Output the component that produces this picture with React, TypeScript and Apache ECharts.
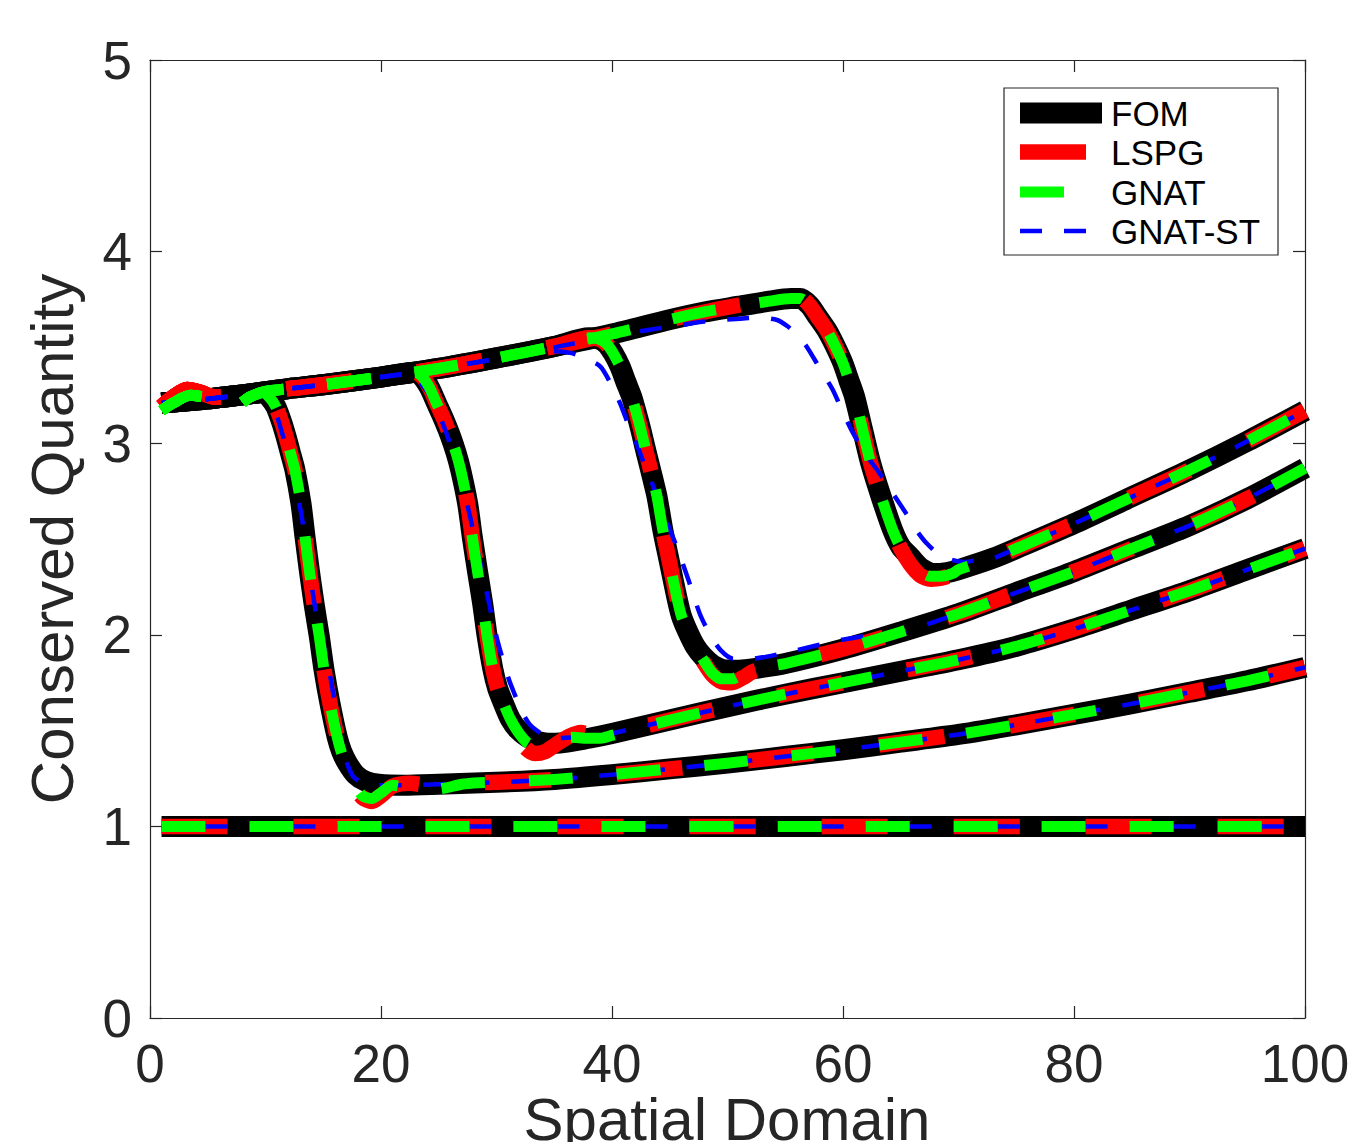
import React, { useEffect, useRef } from 'react';
import * as echarts from 'echarts';

type Pt = [number, number];

// ---------- data ----------
const X_MIN = 0, X_MAX = 100, X_STEP = 20;
const Y_MIN = 0, Y_MAX = 5, Y_STEP = 1;
const X_TITLE = 'Spatial Domain';
const Y_TITLE = 'Conserved Quantity';
const LEGEND_NAMES = ['FOM', 'LSPG', 'GNAT', 'GNAT-ST'];

// initial condition (all methods)
const FLAT: Pt[] = [[1, 1], [100, 1]];

// left "upstream" plateau shared by the snapshots
const FOM_TOP: Pt[] = [[1, 3.21], [4, 3.225], [7, 3.245], [9, 3.26], [12, 3.285], [15, 3.305], [20, 3.345], [25, 3.39], [30, 3.445], [35, 3.505], [40, 3.57], [45, 3.645], [48, 3.685], [51, 3.715], [53.5, 3.74], [55.5, 3.755]];
const LSPG_TOP: Pt[] = [[1, 3.19], [2, 3.24], [3.2, 3.28], [4.4, 3.265], [5.6, 3.24], [7, 3.245], [9, 3.26], [12, 3.285], [15, 3.305], [20, 3.345], [25, 3.39], [30, 3.445], [35, 3.505], [40, 3.57], [45, 3.645], [48, 3.685], [51, 3.72], [53.5, 3.745], [55.5, 3.76]];
const GNAT_TOP: Pt[] = [[1, 3.17], [2, 3.21], [3.5, 3.25], [5, 3.24], [6.5, 3.24], [7.6, 3.2], [8.6, 3.24], [10, 3.27], [12, 3.285], [15, 3.305], [20, 3.345], [25, 3.39], [30, 3.445], [35, 3.505], [40, 3.57], [45, 3.645], [48, 3.685], [51, 3.715], [53.5, 3.74], [55.5, 3.755]];
const GST_TOP: Pt[] = [[1, 3.21], [4, 3.225], [7, 3.245], [9, 3.26], [12, 3.285], [15, 3.305], [20, 3.345], [25, 3.39], [30, 3.44], [35, 3.5], [40, 3.56], [43, 3.59], [46, 3.617], [48, 3.635], [51.1, 3.65], [52.5, 3.655]];

// downstream parts (FOM)
const B_RIGHT: Pt[] = [[22, 1.215], [25, 1.22], [30, 1.23], [35, 1.245], [40, 1.27], [45, 1.3], [50, 1.33], [55, 1.365], [60, 1.4], [65, 1.44], [70, 1.48], [75, 1.53], [80, 1.585], [85, 1.64], [90, 1.7], [95, 1.76], [100, 1.83]];
const C_RIGHT: Pt[] = [[35.5, 1.435], [38, 1.46], [40, 1.485], [45, 1.555], [50, 1.625], [55, 1.69], [60, 1.75], [65, 1.81], [70, 1.87], [75, 1.94], [80, 2.03], [85, 2.13], [90, 2.23], [95, 2.34], [100, 2.45]];
const D_RIGHT: Pt[] = [[52.5, 1.825], [55, 1.85], [60, 1.925], [65, 2.015], [70, 2.11], [75, 2.22], [80, 2.33], [85, 2.45], [90, 2.57], [95, 2.71], [100, 2.87]];
const E_RIGHT: Pt[] = [[70, 2.34], [73, 2.4], [75, 2.45], [80, 2.58], [85, 2.72], [90, 2.86], [95, 3.01], [100, 3.17]];

// shock regions, FOM
const FOM_B: Pt[] = [[9.8, 3.265], [10.4, 3.235], [10.9, 3.19], [11.4, 3.11], [11.78, 3.034], [12.2, 2.94], [12.55, 2.86], [13.07, 2.686], [13.42, 2.512], [13.79, 2.338], [14.2, 2.164], [14.66, 1.99], [15.07, 1.816], [15.58, 1.643], [16.2, 1.468], [16.6, 1.39], [17.1, 1.329], [17.8, 1.27], [18.7, 1.235], [19.8, 1.22]];
const FOM_C: Pt[] = [[23.0, 3.37], [23.6, 3.345], [24.2, 3.29], [24.8, 3.21], [25.4, 3.13], [26.0, 3.04], [26.5, 2.95], [26.9, 2.86], [27.5, 2.686], [27.9, 2.512], [28.34, 2.338], [28.8, 2.164], [29.2, 1.99], [29.7, 1.816], [30.1, 1.72], [30.6, 1.643], [31.2, 1.56], [31.9, 1.503], [33, 1.455], [34.5, 1.434]];
const FOM_D: Pt[] = [[38.0, 3.55], [38.8, 3.545], [39.5, 3.52], [40.1, 3.47], [40.7, 3.4], [41.2, 3.32], [41.7, 3.243], [42.1, 3.16], [42.5, 3.069], [42.85, 2.98], [43.2, 2.895], [43.55, 2.81], [43.9, 2.721], [44.4, 2.547], [45.0, 2.373], [45.6, 2.199], [46.0, 2.1], [46.5, 2.025], [47.2, 1.94], [47.9, 1.886], [48.8, 1.84], [49.9, 1.816], [51, 1.815]];
const FOM_E: Pt[] = [[56.3, 3.755], [57.1, 3.72], [57.8, 3.66], [58.6, 3.59], [59.3, 3.51], [60.0, 3.417], [60.5, 3.33], [61.0, 3.243], [61.7, 3.069], [62.4, 2.895], [63.3, 2.721], [64.3, 2.547], [65.0, 2.46], [65.8, 2.408], [66.7, 2.35], [67.8, 2.32], [69, 2.325]];

// shock regions, LSPG
const LSPG_B: Pt[] = [[9.8, 3.265], [10.4, 3.235], [10.9, 3.19], [11.4, 3.11], [11.78, 3.034], [12.2, 2.94], [12.55, 2.86], [13.07, 2.686], [13.42, 2.512], [13.79, 2.338], [14.2, 2.164], [14.66, 1.99], [15.07, 1.816], [15.58, 1.643], [16.2, 1.468], [16.6, 1.37], [17.1, 1.29], [17.7, 1.21], [18.4, 1.15], [19.2, 1.13], [20.0, 1.16], [21, 1.21], [22.5, 1.225], [24, 1.215], [26, 1.22], [28, 1.228]];
const LSPG_C: Pt[] = [[23.0, 3.37], [23.6, 3.345], [24.2, 3.29], [24.8, 3.21], [25.4, 3.13], [26.0, 3.04], [26.5, 2.95], [26.9, 2.86], [27.5, 2.686], [27.9, 2.512], [28.34, 2.338], [28.8, 2.164], [29.2, 1.99], [29.7, 1.816], [30.1, 1.72], [30.6, 1.643], [31.2, 1.55], [31.8, 1.47], [32.5, 1.41], [33.3, 1.38], [34.2, 1.39], [35.2, 1.43], [36.3, 1.47], [37.3, 1.49], [38.3, 1.475], [39.5, 1.47], [41, 1.495]];
const LSPG_D: Pt[] = [[38.0, 3.55], [38.8, 3.545], [39.5, 3.52], [40.1, 3.47], [40.7, 3.4], [41.2, 3.32], [41.7, 3.243], [42.1, 3.16], [42.5, 3.069], [42.85, 2.98], [43.2, 2.895], [43.55, 2.81], [43.9, 2.721], [44.4, 2.547], [45.0, 2.373], [45.6, 2.199], [46.0, 2.1], [46.5, 2.025], [47.2, 1.93], [47.9, 1.86], [48.7, 1.79], [49.5, 1.755], [50.4, 1.75], [51.3, 1.775], [52.3, 1.81], [55, 1.845], [57, 1.88], [59, 1.91]];
const LSPG_E: Pt[] = [[56.3, 3.76], [57.1, 3.72], [57.8, 3.66], [58.6, 3.59], [59.3, 3.51], [60.0, 3.417], [60.5, 3.33], [61.0, 3.243], [61.7, 3.069], [62.4, 2.895], [63.3, 2.721], [64.3, 2.547], [65.0, 2.45], [65.8, 2.37], [66.7, 2.31], [67.6, 2.29], [68.5, 2.295], [69.5, 2.315], [71, 2.355]];

// shock regions, GNAT
const GNAT_B: Pt[] = [[9.8, 3.265], [10.4, 3.235], [10.9, 3.19], [11.4, 3.11], [11.78, 3.034], [12.2, 2.94], [12.55, 2.86], [13.07, 2.686], [13.42, 2.512], [13.79, 2.338], [14.2, 2.164], [14.66, 1.99], [15.07, 1.816], [15.58, 1.643], [16.2, 1.468], [16.6, 1.38], [17.1, 1.3], [17.7, 1.22], [18.4, 1.16], [19.2, 1.145], [20.0, 1.175], [21, 1.215], [22.5, 1.2], [24, 1.19], [25.5, 1.2], [27, 1.22], [28.5, 1.228]];
const GNAT_C: Pt[] = [[23.0, 3.37], [23.6, 3.345], [24.2, 3.29], [24.8, 3.21], [25.4, 3.13], [26.0, 3.04], [26.5, 2.95], [26.9, 2.86], [27.5, 2.686], [27.9, 2.512], [28.34, 2.338], [28.8, 2.164], [29.2, 1.99], [29.7, 1.816], [30.1, 1.72], [30.6, 1.643], [31.2, 1.56], [31.9, 1.49], [32.7, 1.435], [33.5, 1.42], [34.5, 1.435], [35.5, 1.455], [36.5, 1.465], [37.8, 1.46], [39, 1.46], [40, 1.475]];
const GNAT_D: Pt[] = [[38.0, 3.55], [38.8, 3.545], [39.5, 3.52], [40.1, 3.47], [40.7, 3.4], [41.2, 3.32], [41.7, 3.243], [42.1, 3.16], [42.5, 3.069], [42.85, 2.98], [43.2, 2.895], [43.55, 2.81], [43.9, 2.721], [44.4, 2.547], [45.0, 2.373], [45.6, 2.199], [46.0, 2.1], [46.5, 2.025], [47.2, 1.935], [47.9, 1.87], [48.7, 1.8], [49.5, 1.77], [50.4, 1.77], [51.3, 1.795], [52.3, 1.82]];
const GNAT_E: Pt[] = [[56.3, 3.755], [57.1, 3.72], [57.8, 3.66], [58.6, 3.59], [59.3, 3.51], [60.0, 3.417], [60.5, 3.33], [61.0, 3.243], [61.7, 3.069], [62.4, 2.895], [63.3, 2.721], [64.3, 2.547], [65.0, 2.455], [65.8, 2.385], [66.7, 2.33], [67.6, 2.305], [68.5, 2.305], [69.5, 2.32]];

// shock regions, GNAT-ST
const GST_B: Pt[] = [[9.8, 3.265], [10.4, 3.23], [11.0, 3.14], [11.4, 3.06], [11.9, 2.96], [12.5, 2.8], [13.1, 2.63], [13.8, 2.34], [14.3, 2.14], [14.8, 2.0], [15.3, 1.88], [15.9, 1.68], [16.45, 1.47], [17.0, 1.34], [17.6, 1.26], [18.5, 1.225], [19.8, 1.215], [21, 1.215]];
const GST_C: Pt[] = [[22.5, 3.36], [23.3, 3.32], [24.0, 3.27], [24.6, 3.2], [25.3, 3.11], [25.9, 3.01], [26.4, 2.91], [26.8, 2.82], [27.3, 2.72], [27.7, 2.62], [28.5, 2.4], [29.3, 2.18], [30.0, 1.99], [30.5, 1.88], [31.0, 1.78], [31.5, 1.7], [32.2, 1.6], [32.9, 1.53], [34.0, 1.48], [35, 1.46], [37, 1.465]];
const GST_D: Pt[] = [[33, 3.475], [35, 3.48], [36.5, 3.47], [37.8, 3.44], [39.0, 3.4], [39.9, 3.31], [40.7, 3.208], [41.4, 3.1], [42.1, 3.0], [42.8, 2.89], [43.6, 2.77], [44.6, 2.61], [45.6, 2.46], [46.6, 2.29], [47.6, 2.11], [48.5, 2.0], [49.4, 1.92], [50.5, 1.875], [52, 1.875], [53.4, 1.886], [56, 1.92], [59.2, 1.965], [62, 1.995]];
const GST_E: Pt[] = [[54.3, 3.643], [55.2, 3.61], [56.1, 3.56], [56.9, 3.5], [58.0, 3.39], [59.1, 3.28], [60.0, 3.16], [60.9, 3.05], [62.0, 2.94], [63.2, 2.84], [64.3, 2.74], [65.5, 2.63], [66.3, 2.55], [67.2, 2.48], [68.3, 2.42], [69.5, 2.39], [70.5, 2.38], [72, 2.395]];

// ---------- helpers ----------
function compose(top: Pt[], mid: Pt[], right: Pt[]): Pt[] {
  const a = mid[0][0];
  const b = mid[mid.length - 1][0];
  return [...top.filter((p) => p[0] < a), ...mid, ...right.filter((p) => p[0] > b)];
}

const FONT = '"Liberation Sans", Arial, Helvetica, sans-serif';
const AX = '#262626';

type Method = { name: string; color: string; width: number; dash: number[] | 'solid'; top: Pt[]; mids: Pt[][] };

const METHODS: Method[] = [
  { name: 'FOM', color: '#000000', width: 21, dash: 'solid', top: FOM_TOP, mids: [FOM_B, FOM_C, FOM_D, FOM_E] },
  { name: 'LSPG', color: '#ff0000', width: 15.5, dash: [66, 66], top: LSPG_TOP, mids: [LSPG_B, LSPG_C, LSPG_D, LSPG_E] },
  { name: 'GNAT-ST', color: '#0000ff', width: 4.5, dash: [22, 22], top: GST_TOP, mids: [GST_B, GST_C, GST_D, GST_E] },
  { name: 'GNAT', color: '#00ff00', width: 11, dash: [44, 44], top: GNAT_TOP, mids: [GNAT_B, GNAT_C, GNAT_D, GNAT_E] },
];
const RIGHTS: Pt[][] = [B_RIGHT, C_RIGHT, D_RIGHT, E_RIGHT];

function buildSeries() {
  const out: any[] = [];
  METHODS.forEach((m) => {
    const snaps: Pt[][] = [FLAT, ...m.mids.map((mid, i) => compose(m.top, mid, RIGHTS[i]))];
    snaps.forEach((data) => {
      out.push({
        name: m.name,
        type: 'line',
        data,
        showSymbol: false,
        symbol: 'none',
        smooth: 0.25,
        silent: true,
        clip: false,
        lineStyle: { color: m.color, width: m.width, type: m.dash, cap: 'butt', join: 'round' },
        emphasis: { disabled: true },
      });
    });
  });
  return out;
}

function graphics() {
  const els: any[] = [
    { type: 'rect', shape: { x: 1004, y: 88, width: 274, height: 167 }, style: { fill: '#ffffff', stroke: AX, lineWidth: 1.2 }, z: 100 },
  ];
  const rows = [
    { name: LEGEND_NAMES[0], y: 113, color: '#000000', w: 21, dash: null },
    { name: LEGEND_NAMES[1], y: 152, color: '#ff0000', w: 15.5, dash: [66, 66] },
    { name: LEGEND_NAMES[2], y: 192, color: '#00ff00', w: 11, dash: [44, 44] },
    { name: LEGEND_NAMES[3], y: 231, color: '#0000ff', w: 4.5, dash: [22, 22] },
  ];
  rows.forEach((r) => {
    els.push({
      type: 'line',
      shape: { x1: 1020, y1: r.y, x2: 1102, y2: r.y },
      style: { stroke: r.color, lineWidth: r.w, lineCap: 'butt', lineDash: r.dash || undefined },
      z: 101,
    });
    els.push({
      type: 'text',
      x: 1111,
      y: r.y,
      style: { text: r.name, fontSize: 35, fontFamily: FONT, fill: '#000000', verticalAlign: 'middle', align: 'left' },
      z: 101,
    });
  });
  // x-axis title (sits at the lower edge, as in the reference)
  els.push({
    type: 'text',
    x: 727,
    y: 1119,
    style: { text: X_TITLE, fontSize: 60, lineHeight: 44, fontFamily: FONT, fill: AX, verticalAlign: 'middle', align: 'center' },
    z: 50,
  });
  return els;
}

export default function App() {
  const ref = useRef<HTMLDivElement>(null);
  useEffect(() => {
    if (!ref.current) return;
    const chart = echarts.init(ref.current, undefined, { renderer: 'svg' });
    const axisCommon = {
      type: 'value',
      splitLine: { show: false },
      axisLine: { show: true, onZero: false, lineStyle: { color: AX, width: 1.2 } },
      axisTick: { show: true, inside: true, length: 12, lineStyle: { color: AX, width: 1.2 } },
    };
    chart.setOption({
      animation: false,
      backgroundColor: '#ffffff',
      grid: { left: 150, top: 60, width: 1155, height: 958, containLabel: false, outerBoundsMode: 'none' },
      xAxis: [
        {
          ...axisCommon,
          min: X_MIN, max: X_MAX, interval: X_STEP, position: 'bottom',
          axisLabel: { fontSize: 53, lineHeight: 46, color: AX, margin: 22, fontFamily: FONT },
        },
        { ...axisCommon, min: X_MIN, max: X_MAX, interval: X_STEP, position: 'top', axisLabel: { show: false } },
      ],
      yAxis: [
        {
          ...axisCommon,
          min: Y_MIN, max: Y_MAX, interval: Y_STEP, position: 'left',
          axisLabel: { fontSize: 53, color: AX, margin: 18, fontFamily: FONT },
          name: Y_TITLE, nameLocation: 'middle', nameGap: 68,
          nameTextStyle: { fontSize: 60, color: AX, fontFamily: FONT },
        },
        { ...axisCommon, min: Y_MIN, max: Y_MAX, interval: Y_STEP, position: 'right', axisLabel: { show: false } },
      ],
      series: buildSeries(),
      graphic: graphics(),
    });
    return () => chart.dispose();
  }, []);
  return <div ref={ref} style={{ position: 'absolute', left: 0, top: 0, width: 1348, height: 1142 }} />;
}
